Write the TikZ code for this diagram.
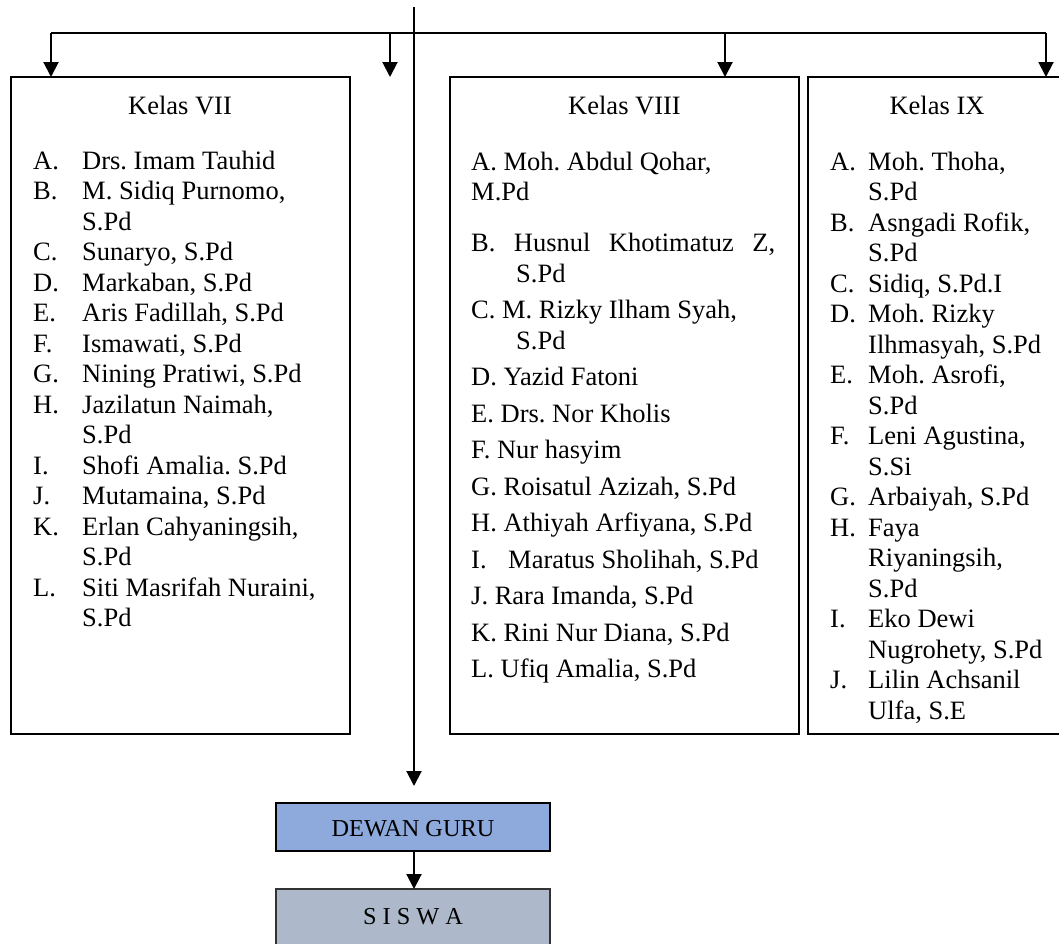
\documentclass[tikz,border=0pt]{standalone}
\usepackage{fontspec}
\setmainfont{Liberation Serif}
\usetikzlibrary{arrows.meta}
\definecolor{dewanfill}{HTML}{8EA9DB}
\definecolor{siswafill}{HTML}{ADB9CA}
\frenchspacing
\begin{document}
\begin{tikzpicture}[x=1pt,y=-1pt,
  txt/.style={anchor=base west,inner sep=0pt,font=\fontsize{26.5}{30.5}\selectfont\frenchspacing},
  ttl/.style={anchor=base,inner sep=0pt,font=\fontsize{26.5}{30.5}\selectfont},
  kbox/.style={draw,line width=1.6pt,inner sep=0pt,outer sep=0pt},
  ln/.style={line width=1.4pt},
  arr/.style={line width=2pt,-{Triangle[width=15pt,length=15pt]}},
  ]
\useasboundingbox (0,0) rectangle (1059,943);

% boxes
\node[kbox,minimum width=339pt,minimum height=657pt] (k7) at (180.5,405.5) {};
\node[kbox,minimum width=349pt,minimum height=657pt] (k8) at (624.5,405.5) {};
\node[kbox,minimum width=258pt,minimum height=657pt] (k9) at (937,405.5) {};

\node[kbox,fill=dewanfill,minimum width=274pt,minimum height=48pt] (dewan) at (413,827) {};
\node[anchor=center,inner sep=0pt,font=\fontsize{24.3}{28}\selectfont] (dewant) at (413,829) {DEWAN GURU};
\node[kbox,draw=black!80,fill=siswafill,minimum width=274pt,minimum height=64pt] (siswa) at (413,921) {};
\node[anchor=center,inner sep=0pt,font=\fontsize{24.3}{28}\selectfont] (siswat) at (413,917) {S I S W A};

% connectors
\coordinate (top) at (414,7);
\coordinate (hl) at (51,33);
\coordinate (hr) at (1046,33);
\coordinate (b2) at (390,33);
\coordinate (e2) at (390,77);
\coordinate (b8) at (725,33);
\draw[ln] (hl) -- (hr);
\draw[arr] (hl) -- (hl |- k7.north);
\draw[arr] (b2) -- (e2);
\draw[arr] (b8) -- (b8 |- k8.north);
\draw[arr] (hr) -- (hr |- k9.north);
\draw[arr,shorten >=17pt] (top) -- (top |- dewan.north);
\draw[arr] (dewan.south -| top) -- (siswa.north -| top);

% Kelas VII
\node[ttl] (t7) at (180,114) {Kelas VII};
\node[txt] (a7l) at (33,169) {A.};   \node[txt] (a7) at (82,169) {Drs. Imam Tauhid};
\node[txt] (b7l) at (33,199.5) {B.}; \node[txt] (b7) at (82,199.5) {M. Sidiq Purnomo,};
\node[txt] (b7c) at (82,230) {S.Pd};
\node[txt] (c7l) at (33,260.5) {C.}; \node[txt] (c7) at (82,260.5) {Sunaryo, S.Pd};
\node[txt] (d7l) at (33,291) {D.};   \node[txt] (d7) at (82,291) {Markaban, S.Pd};
\node[txt] (e7l) at (33,321.5) {E.}; \node[txt] (e7) at (82,321.5) {Aris Fadillah, S.Pd};
\node[txt] (f7l) at (33,352) {F.};   \node[txt] (f7) at (82,352) {Ismawati, S.Pd};
\node[txt] (g7l) at (33,382.5) {G.}; \node[txt] (g7) at (82,382.5) {Nining Pratiwi, S.Pd};
\node[txt] (h7l) at (33,413) {H.};   \node[txt] (h7) at (82,413) {Jazilatun Naimah,};
\node[txt] (h7c) at (82,443.5) {S.Pd};
\node[txt] (i7l) at (33,474) {I.};   \node[txt] (i7) at (82,474) {Shofi Amalia. S.Pd};
\node[txt] (j7l) at (33,504.5) {J.}; \node[txt] (j7) at (82,504.5) {Mutamaina, S.Pd};
\node[txt] (k7l) at (33,535) {K.};   \node[txt] (k7t) at (82,535) {Erlan Cahyaningsih,};
\node[txt] (k7c) at (82,565.5) {S.Pd};
\node[txt] (l7l) at (33,596) {L.};   \node[txt] (l7) at (82,596) {Siti Masrifah Nuraini,};
\node[txt] (l7c) at (82,626.5) {S.Pd};

% Kelas VIII
\node[ttl] (t8) at (624.5,114) {Kelas VIII};
\node[txt] (a8) at (471,170) {A. Moh. Abdul Qohar,};
\node[txt] (a8c) at (471,200.5) {M.Pd};
\node[txt] (b8t) at (471,251.5) {\hbox to 304pt{B.\hfil Husnul\hfil Khotimatuz\hfil Z,}};
\node[txt] (b8c) at (516,282) {S.Pd};
\node[txt] (c8) at (471,318.5) {C. M. Rizky Ilham Syah,};
\node[txt] (c8c) at (516,349) {S.Pd};
\node[txt] (d8) at (471,385.5) {D. Yazid Fatoni};
\node[txt] (e8) at (471,422) {E. Drs. Nor Kholis};
\node[txt] (f8) at (471,458.5) {F. Nur hasyim};
\node[txt] (g8) at (471,495) {G. Roisatul Azizah, S.Pd};
\node[txt] (h8) at (471,531.5) {H. Athiyah Arfiyana, S.Pd};
\node[txt] (i8l) at (471,568) {I.}; \node[txt] (i8) at (508,568) {Maratus Sholihah, S.Pd};
\node[txt] (j8) at (471,604.5) {J. Rara Imanda, S.Pd};
\node[txt] (k8t) at (471,641) {K. Rini Nur Diana, S.Pd};
\node[txt] (l8) at (471,677.5) {L. Ufiq Amalia, S.Pd};

% Kelas IX
\node[ttl] (t9) at (937,114) {Kelas IX};
\node[txt] (a9l) at (830,170) {A.};   \node[txt] (a9) at (868,170) {Moh. Thoha,};
\node[txt] (a9c) at (868,200.5) {S.Pd};
\node[txt] (b9l) at (830,231) {B.};   \node[txt] (b9) at (868,231) {Asngadi Rofik,};
\node[txt] (b9c) at (868,261.5) {S.Pd};
\node[txt] (c9l) at (830,292) {C.};   \node[txt] (c9) at (868,292) {Sidiq, S.Pd.I};
\node[txt] (d9l) at (830,322.5) {D.}; \node[txt] (d9) at (868,322.5) {Moh. Rizky};
\node[txt] (d9c) at (868,353) {Ilhmasyah, S.Pd};
\node[txt] (e9l) at (830,383.5) {E.}; \node[txt] (e9) at (868,383.5) {Moh. Asrofi,};
\node[txt] (e9c) at (868,414) {S.Pd};
\node[txt] (f9l) at (830,444.5) {F.}; \node[txt] (f9) at (868,444.5) {Leni Agustina,};
\node[txt] (f9c) at (868,475) {S.Si};
\node[txt] (g9l) at (830,505.5) {G.}; \node[txt] (g9) at (868,505.5) {Arbaiyah, S.Pd};
\node[txt] (h9l) at (830,536) {H.};   \node[txt] (h9) at (868,536) {Faya};
\node[txt] (h9c) at (868,566.5) {Riyaningsih,};
\node[txt] (h9d) at (868,597) {S.Pd};
\node[txt] (i9l) at (830,627.5) {I.}; \node[txt] (i9) at (868,627.5) {Eko Dewi};
\node[txt] (i9c) at (868,658) {Nugrohety, S.Pd};
\node[txt] (j9l) at (830,688.5) {J.}; \node[txt] (j9) at (868,688.5) {Lilin Achsanil};
\node[txt] (j9c) at (868,719) {Ulfa, S.E};
\end{tikzpicture}
\end{document}
